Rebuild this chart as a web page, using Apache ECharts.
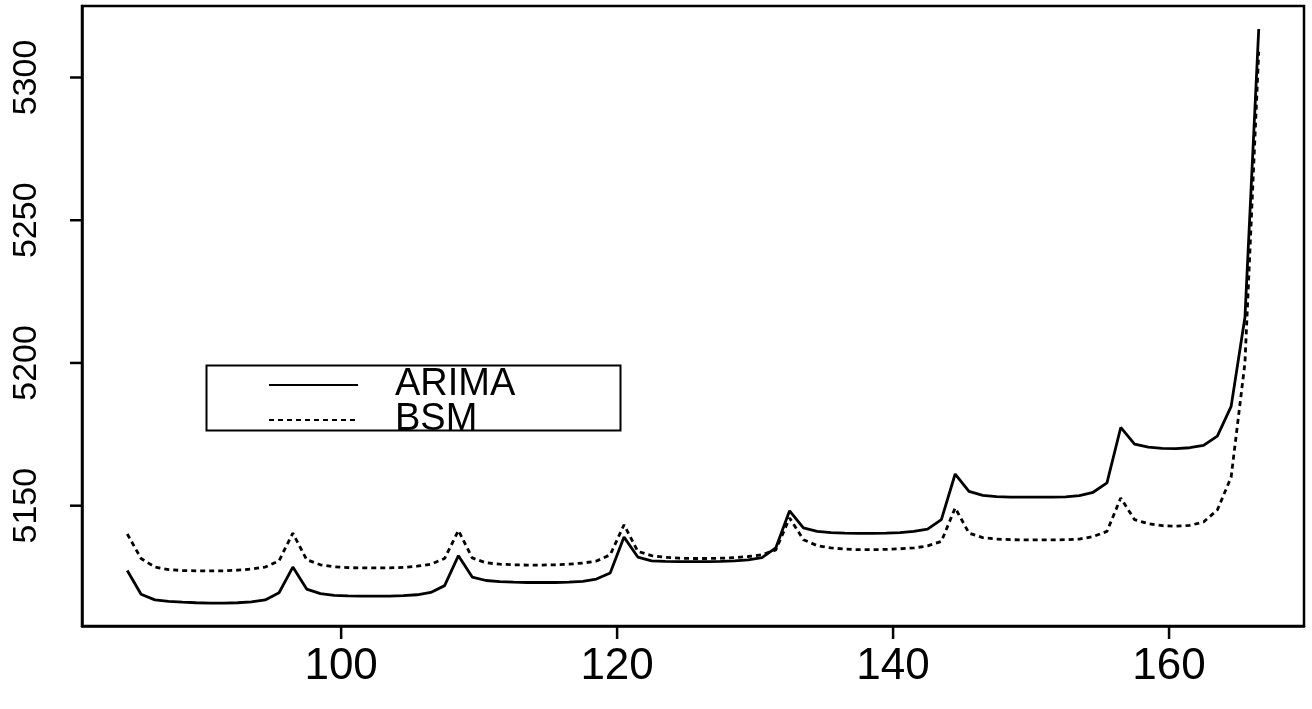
<!DOCTYPE html>
<html>
<head>
<meta charset="utf-8">
<script src="https://cdn.jsdelivr.net/npm/echarts@6/dist/echarts.min.js"></script>
<style>
html, body { margin: 0; padding: 0; background: #fff; }
#chart { width: 1312px; height: 709px; }
</style>
</head>
<body>
<div id="chart"></div>
<script>
// time index of the first forecast point, one step per point
var timeStart = 84.5;

var arima = [
    5127.3, 5119.0, 5117.0, 5116.5, 5116.2, 5116.0, 5115.9, 5115.9, 5116.0, 5116.3, 5117.0, 5119.5,
    5128.5, 5120.8, 5119.2, 5118.6, 5118.4, 5118.3, 5118.3, 5118.3, 5118.5, 5118.8, 5119.6, 5122.0,
    5132.5, 5125.0, 5123.8, 5123.4, 5123.2, 5123.1, 5123.1, 5123.1, 5123.2, 5123.5, 5124.3, 5126.4,
    5139.0, 5132.0, 5130.7, 5130.5, 5130.4, 5130.4, 5130.4, 5130.5, 5130.7, 5131.0, 5131.8, 5135.2,
    5148.2, 5142.2, 5141.0, 5140.6, 5140.4, 5140.3, 5140.3, 5140.4, 5140.6, 5141.0, 5141.8, 5145.1,
    5161.1, 5155.0, 5153.6, 5153.2, 5153.0, 5153.0, 5153.0, 5153.0, 5153.1, 5153.5, 5154.7, 5158.0,
    5177.4, 5171.6, 5170.5, 5170.1, 5170.0, 5170.3, 5171.1, 5174.4, 5184.8, 5216.0, 5317.0
];

var bsm = [
    5140.1, 5131.5, 5128.5, 5127.6, 5127.3, 5127.2, 5127.2, 5127.2, 5127.4, 5127.8, 5128.5, 5130.7,
    5140.4, 5131.1, 5129.3, 5128.6, 5128.3, 5128.2, 5128.2, 5128.2, 5128.4, 5128.8, 5129.5, 5131.5,
    5141.3, 5131.7, 5130.0, 5129.5, 5129.3, 5129.2, 5129.2, 5129.3, 5129.5, 5129.9, 5130.6, 5132.8,
    5143.3, 5134.0, 5132.5, 5131.9, 5131.6, 5131.5, 5131.5, 5131.6, 5131.8, 5132.2, 5132.8, 5134.5,
    5145.7, 5138.1, 5136.0, 5135.2, 5134.8, 5134.6, 5134.6, 5134.7, 5134.9, 5135.2, 5135.9, 5137.5,
    5149.2, 5140.4, 5138.8, 5138.3, 5138.1, 5138.0, 5138.0, 5138.0, 5138.1, 5138.3, 5139.2, 5141.0,
    5152.7, 5145.1, 5143.7, 5143.0, 5142.8, 5143.1, 5144.3, 5148.5, 5160.0, 5200.0, 5309.0
];

var xTicks = [100, 120, 140, 160];
var yTicks = [5150, 5200, 5250, 5300];

function pairs(vals) {
    var d = [];
    for (var i = 0; i < vals.length; i++) {
        d.push([timeStart + i, vals[i]]);
    }
    return d;
}

// plain R axis: data range stretched by 4% on each side
function padRange(lo, hi) {
    var e = (hi - lo) * 0.04;
    return [lo - e, hi + e];
}

var xr = padRange(timeStart, timeStart + arima.length - 1);
var all = arima.concat(bsm);
var yr = padRange(Math.min.apply(null, all), Math.max.apply(null, all));

var font = "'Liberation Sans', Arial, sans-serif";
var ink = '#000';

var axisCommon = {
    type: 'value',
    axisLine: {show: true, onZero: false, lineStyle: {color: ink, width: 2.5}},
    axisTick: {show: false},
    splitLine: {show: false}
};

var legendFrame = {
    type: 'rect',
    id: 'legendFrame',
    left: 204, top: 363,
    shape: {width: 414, height: 65},
    style: {fill: 'none', stroke: ink, lineWidth: 2},
    silent: true
};

var option = {
    animation: false,
    backgroundColor: '#fff',
    grid: {
        left: 82, right: 8, top: 6, bottom: 83,
        show: true, borderColor: ink, borderWidth: 2.5
    },
    graphic: [legendFrame],
    legend: {
        orient: 'vertical',
        left: 268,
        top: 366,
        data: ['ARIMA', 'BSM'],
        itemWidth: 89,
        itemHeight: 14,
        itemGap: -3,
        padding: 0,
        itemStyle: {opacity: 0},
        textStyle: {
            fontFamily: font,
            fontSize: 38,
            color: ink,
            padding: [0, 0, 0, 32]
        }
    },
    xAxis: Object.assign({}, axisCommon, {
        min: xr[0],
        max: xr[1],
        axisLabel: {
            customValues: xTicks, margin: 19,
            fontFamily: font, fontSize: 44, color: ink
        }
    }),
    yAxis: Object.assign({}, axisCommon, {
        min: yr[0],
        max: yr[1],
        axisLabel: {
            customValues: yTicks, margin: 38, rotate: 90,
            fontFamily: font, fontSize: 34, color: ink,
            formatter: function (v) { return String(v); }
        }
    }),
    series: [
        {
            name: 'ARIMA',
            type: 'line',
            symbol: 'none',
            silent: true,
            itemStyle: {color: ink},
            lineStyle: {color: ink, width: 2.8, type: 'solid'},
            data: pairs(arima)
        },
        {
            name: 'BSM',
            type: 'line',
            symbol: 'none',
            silent: true,
            itemStyle: {color: ink},
            lineStyle: {color: ink, width: 2.8, type: [5, 4]},
            data: pairs(bsm)
        }
    ]
};

var chart = echarts.init(document.getElementById('chart'));
chart.setOption(option);

// outside tick marks, placed through the chart's own scales
var marks = [legendFrame];
xTicks.forEach(function (v) {
    var p = chart.convertToPixel({gridIndex: 0}, [v, yr[0]]);
    marks.push({
        type: 'line', silent: true, z: 10,
        shape: {x1: p[0], y1: p[1], x2: p[0], y2: p[1] + 13},
        style: {stroke: ink, lineWidth: 2.5}
    });
});
yTicks.forEach(function (v) {
    var p = chart.convertToPixel({gridIndex: 0}, [xr[0], v]);
    marks.push({
        type: 'line', silent: true, z: 10,
        shape: {x1: p[0] - 12, y1: p[1], x2: p[0], y2: p[1]},
        style: {stroke: ink, lineWidth: 2.5}
    });
});
chart.setOption({graphic: marks});
</script>
</body>
</html>
